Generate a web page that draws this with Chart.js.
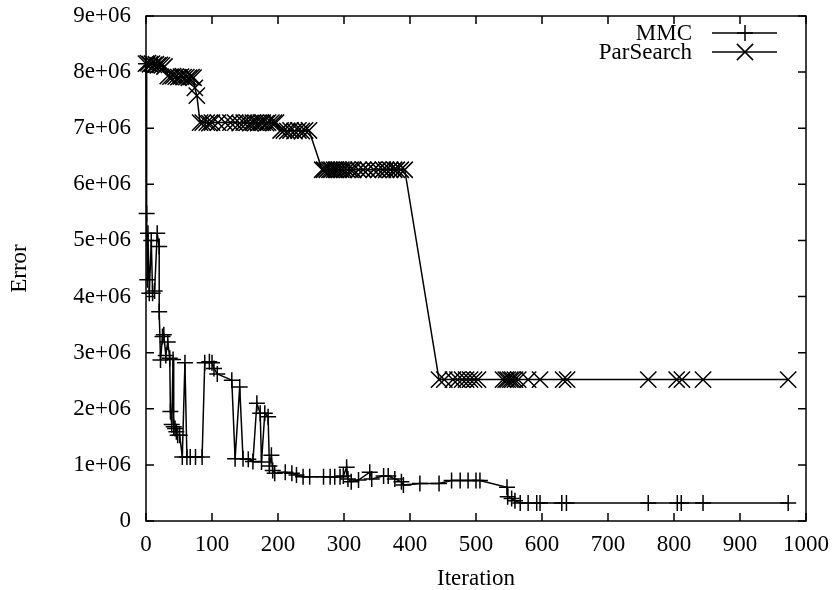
<!DOCTYPE html>
<html>
<head>
<meta charset="utf-8">
<script src="https://cdn.jsdelivr.net/npm/chart.js@4/dist/chart.umd.min.js"></script>
<style>
    body { margin: 0; background: #fff; }
    #box { width: 835px; height: 590px; }
</style>
</head>
<body>
<div id="box"><canvas id="error-chart"></canvas></div>
<script>
// values (iteration, error)
let mmc_x = [0, 1, 2, 3, 5, 8, 10, 13, 17, 20, 20, 22, 25, 27, 30, 33, 36, 37, 39, 41, 42, 44, 46, 48,
    51, 55, 59, 62, 67, 75, 85, 89, 96, 100, 103, 108, 130, 135, 142, 147, 155, 162, 168, 173, 175,
    180, 185, 187, 190, 192, 195, 211, 221, 228, 238, 248, 269, 279, 286, 294, 299, 304, 306, 311,
    322, 339, 342, 360, 367, 377, 387, 390, 415, 444, 463, 476, 488, 500, 506, 547, 548, 554, 559,
    567, 579, 592, 597, 630, 637, 761, 805, 811, 844, 973];
let mmc_y = [8.15e6, 5.48e6, 4.3e6, 5.13e6, 4.06e6, 5.0e6, 4.06e6, 4.1e6, 5.13e6, 4.89e6, 3.73e6, 2.87e6,
    3.29e6, 3.32e6, 2.95e6, 3.19e6, 2.9e6, 1.95e6, 1.72e6, 2.88e6, 1.68e6, 1.65e6, 1.59e6, 1.53e6,
    1.53e6, 1.14e6, 2.82e6, 1.14e6, 1.14e6, 1.14e6, 1.14e6, 2.82e6, 2.84e6, 2.82e6, 2.72e6, 2.62e6,
    2.51e6, 1.11e6, 2.39e6, 1.11e6, 1.1e6, 1.06e6, 2.1e6, 1.92e6, 1.05e6, 1.92e6, 1.86e6, 0.98e6,
    1.17e6, 0.9e6, 0.85e6, 0.87e6, 0.85e6, 0.82e6, 0.79e6, 0.79e6, 0.79e6, 0.79e6, 0.79e6, 0.79e6,
    0.8e6, 0.96e6, 0.75e6, 0.7e6, 0.73e6, 0.87e6, 0.75e6, 0.8e6, 0.8e6, 0.75e6, 0.7e6, 0.64e6,
    0.67e6, 0.67e6, 0.72e6, 0.72e6, 0.72e6, 0.72e6, 0.72e6, 0.6e6, 0.43e6, 0.4e6, 0.36e6, 0.32e6,
    0.32e6, 0.32e6, 0.32e6, 0.32e6, 0.32e6, 0.32e6, 0.32e6, 0.32e6, 0.32e6, 0.32e6];

let par_x = [0, 3, 6, 9, 12, 15, 18, 21, 24, 28, 33, 37, 41, 45, 49, 53, 57, 61, 65, 69, 72, 74, 77,
    82, 86, 92, 96, 100, 109, 120, 128, 135, 142, 148, 153, 158, 162, 166, 170, 174, 177, 182, 185,
    190, 194, 197, 204, 209, 214, 219, 225, 231, 236, 241, 247, 267, 270, 274, 278, 281, 285, 288,
    292, 296, 300, 305, 310, 314, 322, 329, 336, 345, 352, 359, 364, 370, 376, 380, 386, 392, 444,
    452, 465, 472, 479, 485, 491, 497, 503, 541, 545, 548, 552, 555, 559, 564, 579, 597, 632, 638,
    761, 804, 812, 844, 973];
let par_y = [8.15e6, 8.16e6, 8.14e6, 8.15e6, 8.13e6, 8.14e6, 8.12e6, 8.13e6, 8.12e6, 8.1e6, 7.93e6,
    7.92e6, 7.93e6, 7.92e6, 7.91e6, 7.92e6, 7.91e6, 7.91e6, 7.9e6, 7.91e6, 7.9e6, 7.72e6, 7.58e6,
    7.1e6, 7.1e6, 7.1e6, 7.09e6, 7.1e6, 7.1e6, 7.1e6, 7.1e6, 7.1e6, 7.09e6, 7.1e6, 7.1e6, 7.09e6,
    7.1e6, 7.1e6, 7.09e6, 7.1e6, 7.1e6, 7.09e6, 7.1e6, 7.1e6, 7.1e6, 7.1e6, 6.96e6, 6.96e6, 6.95e6,
    6.96e6, 6.95e6, 6.96e6, 6.95e6, 6.96e6, 6.96e6, 6.26e6, 6.26e6, 6.26e6, 6.26e6, 6.26e6, 6.26e6,
    6.26e6, 6.26e6, 6.26e6, 6.26e6, 6.26e6, 6.26e6, 6.26e6, 6.26e6, 6.26e6, 6.26e6, 6.26e6, 6.26e6,
    6.26e6, 6.26e6, 6.26e6, 6.26e6, 6.26e6, 6.26e6, 6.26e6, 2.52e6, 2.52e6, 2.52e6, 2.52e6, 2.52e6,
    2.52e6, 2.52e6, 2.52e6, 2.52e6, 2.52e6, 2.52e6, 2.52e6, 2.52e6, 2.52e6, 2.52e6, 2.52e6, 2.52e6,
    2.52e6, 2.52e6, 2.52e6, 2.52e6, 2.52e6, 2.52e6, 2.52e6, 2.52e6];

let series_names = ['MMC', 'ParSearch'];
let x_ticks = [0, 1000, 100];   // min, max, step
let y_ticks = [0, 9e6, 1e6];

let font_family = '"Liberation Serif", "Times New Roman", serif';
let font_size = 23;

function to_points(xs, ys) {
    return xs.map((v, i) => ({x: v, y: ys[i]}));
}

// gnuplot style box with inward ticks on all four sides
const frame_plugin = {
    id: 'frame',
    beforeDatasetsDraw(chart) {
        let ctx = chart.ctx;
        let a = chart.chartArea;
        let sx = chart.scales.x;
        let sy = chart.scales.y;
        ctx.save();
        ctx.strokeStyle = '#000';
        ctx.lineWidth = 1.5;
        ctx.strokeRect(a.left, a.top, a.right - a.left, a.bottom - a.top);
        ctx.beginPath();
        sx.ticks.forEach(t => {
            let px = sx.getPixelForValue(t.value);
            ctx.moveTo(px, a.bottom); ctx.lineTo(px, a.bottom - 8);
            ctx.moveTo(px, a.top); ctx.lineTo(px, a.top + 8);
        });
        sy.ticks.forEach(t => {
            let py = sy.getPixelForValue(t.value);
            ctx.moveTo(a.left, py); ctx.lineTo(a.left + 8, py);
            ctx.moveTo(a.right, py); ctx.lineTo(a.right - 8, py);
        });
        ctx.stroke();
        ctx.restore();
    }
};

// key in the top right corner: text, then a sample line with its marker
const key_plugin = {
    id: 'key',
    afterDraw(chart) {
        let ctx = chart.ctx;
        ctx.save();
        ctx.font = font_size + 'px ' + font_family;
        ctx.fillStyle = '#000';
        ctx.strokeStyle = '#000';
        ctx.lineWidth = 1.5;
        ctx.textAlign = 'right';
        ctx.textBaseline = 'middle';
        chart.data.datasets.forEach((ds, i) => {
            let y = 33 + i * 19;
            ctx.fillText(ds.label, 692, y + 1);
            ctx.beginPath();
            ctx.moveTo(712, y); ctx.lineTo(777, y);
            ctx.stroke();
            Chart.helpers.drawPoint(ctx, {pointStyle: ds.pointStyle, radius: ds.pointRadius, borderWidth: 1.5}, 745, y);
        });
        ctx.restore();
    }
};

document.addEventListener('DOMContentLoaded', () => {
    let ctx = document.getElementById('error-chart');
    new Chart(ctx, {
        type: 'scatter',
        data: {
            datasets: [{
                label: series_names[0],
                data: to_points(mmc_x, mmc_y),
                showLine: true,
                borderColor: '#000',
                borderWidth: 1.5,
                pointStyle: 'cross',
                pointRadius: 8,
                pointBorderWidth: 1.5,
                pointBorderColor: '#000',
                clip: false,
            }, {
                label: series_names[1],
                data: to_points(par_x, par_y),
                showLine: true,
                borderColor: '#000',
                borderWidth: 1.5,
                pointStyle: 'crossRot',
                pointRadius: 11.5,
                pointBorderWidth: 1.5,
                pointBorderColor: '#000',
                clip: false,
            }]
        },
        options: {
            responsive: true,
            maintainAspectRatio: false,
            animation: false,
            layout: {padding: {left: 0, right: 29, top: 16, bottom: 0}},
            plugins: {legend: {display: false}, tooltip: {enabled: false}},
            scales: {
                x: {
                    type: 'linear',
                    min: x_ticks[0],
                    max: x_ticks[1],
                    grid: {display: false, drawTicks: false},
                    border: {display: false},
                    ticks: {
                        stepSize: x_ticks[2],
                        autoSkip: false,
                        maxRotation: 0,
                        padding: 10,
                        color: '#000',
                        font: {family: font_family, size: font_size},
                        callback: (v) => String(v),
                    },
                    title: {
                        display: true,
                        text: 'Iteration',
                        color: '#000',
                        font: {family: font_family, size: font_size, lineHeight: 1},
                        padding: {top: 0, bottom: 0},
                    },
                    afterFit: (s) => {
                        s.height = 69;
                        s.paddingLeft = 0;
                        s.paddingRight = 0;
                    },
                },
                y: {
                    type: 'linear',
                    min: y_ticks[0],
                    max: y_ticks[1],
                    grid: {display: false, drawTicks: false},
                    border: {display: false},
                    ticks: {
                        stepSize: y_ticks[2],
                        padding: 15,
                        color: '#000',
                        font: {family: font_family, size: font_size},
                        callback: (v) => v === 0 ? '0' : Math.round(v / 1e6) + 'e+06',
                    },
                    title: {
                        display: true,
                        text: 'Error',
                        color: '#000',
                        font: {family: font_family, size: font_size, lineHeight: 1},
                        padding: {top: 8, bottom: 0},
                    },
                    afterFit: (s) => {
                        s.width = 146;
                        s.paddingTop = 0;
                        s.paddingBottom = 0;
                    },
                },
            },
        },
        plugins: [frame_plugin, key_plugin],
    });
});
</script>
</body>
</html>
